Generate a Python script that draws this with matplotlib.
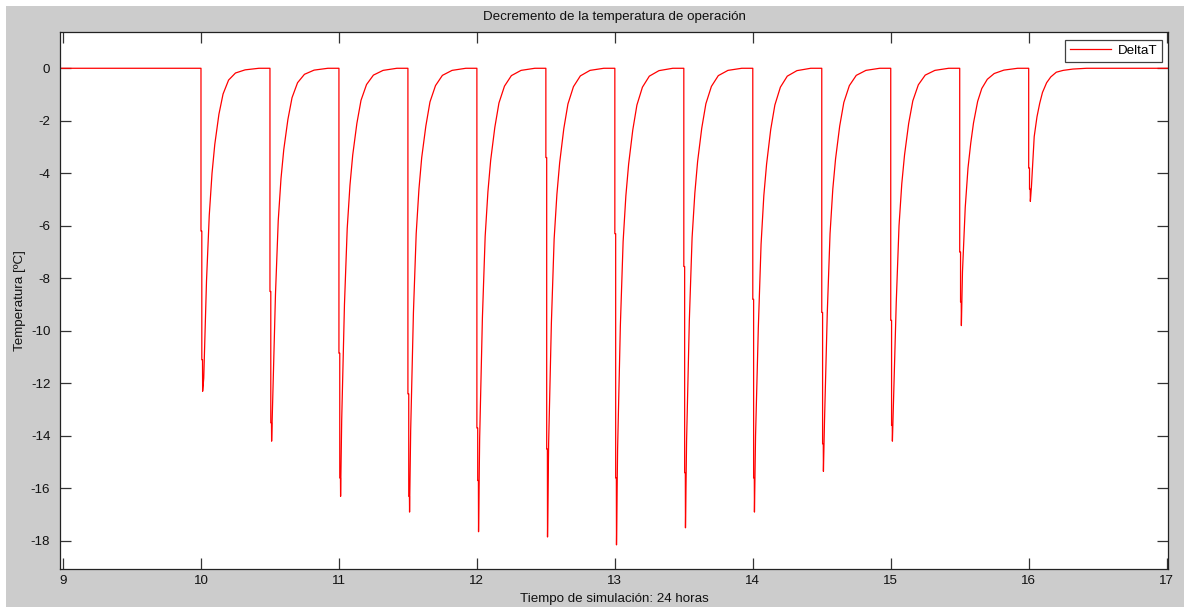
import numpy as np
import matplotlib
matplotlib.use("Agg")
import matplotlib.pyplot as plt
from matplotlib.patches import Rectangle

plt.rcParams['font.family'] = ['Liberation Sans', 'DejaVu Sans']

# ---------------- data ----------------
TITLE = "Decremento de la temperatura de operación"
XLABEL = "Tiempo de simulación: 24 horas"
YLABEL = "Temperatura [ºC]"
SERIES_NAME = "DeltaT"

x_ticks = [9, 10, 11, 12, 13, 14, 15, 16, 17]
y_ticks = [-18, -16, -14, -12, -10, -8, -6, -4, -2, 0]

t_start = 8.978
t_end = 17.012

# spike instants (hours)
spike_t = [10.0, 10.5, 11.0, 11.5, 12.0, 12.5, 13.0, 13.5, 14.0, 14.5, 15.0, 15.5, 16.0]
# first intermediate level of the drop
step1_v = [-6.2, -8.5, -10.85, -12.4, -13.7, -3.4, -6.3, -7.55, -8.8, -9.3, -9.6, -7.0, -3.8]
# second intermediate level of the drop
step2_v = [-11.1, -13.5, -15.6, -16.3, -15.7, -14.5, -15.6, -15.4, -15.6, -14.3, -13.6, -8.9, -4.6]
# minimum of each dip
min_v = [-12.3, -14.2, -16.3, -16.9, -17.65, -17.85, -18.15, -17.5, -16.9, -15.35, -14.2, -9.8, -5.07]

# dip offsets (hours after spike)
dip_dt = [0.0, 0.0, 0.006, 0.006, 0.011, 0.012]

# recovery: offsets (hours after spike) and values for each spike
tail_dt = [0.02, 0.04, 0.06, 0.08, 0.10, 0.13, 0.16, 0.20, 0.25, 0.32, 0.42]
tail_v = [
    [-11.8, -8.1, -5.6, -4.0, -2.9, -1.75, -0.98, -0.45, -0.18, -0.06, 0.0],
    [-12.6, -8.6, -5.8, -4.2, -3.1, -1.95, -1.12, -0.55, -0.23, -0.07, 0.0],
    [-13.4, -9.0, -6.1, -4.45, -3.3, -2.1, -1.22, -0.62, -0.26, -0.08, 0.0],
    [-13.8, -9.3, -6.3, -4.6, -3.4, -2.2, -1.28, -0.66, -0.27, -0.08, 0.0],
    [-14.1, -9.5, -6.4, -4.7, -3.5, -2.25, -1.32, -0.68, -0.28, -0.08, 0.0],
    [-14.3, -9.7, -6.5, -4.8, -3.6, -2.3, -1.36, -0.70, -0.29, -0.08, 0.0],
    [-14.5, -9.8, -6.6, -4.85, -3.65, -2.35, -1.40, -0.72, -0.30, -0.09, 0.0],
    [-14.2, -9.6, -6.45, -4.75, -3.55, -2.28, -1.35, -0.69, -0.28, -0.08, 0.0],
    [-14.0, -9.9, -6.7, -4.85, -3.65, -2.33, -1.40, -0.72, -0.30, -0.09, 0.0],
    [-13.4, -9.3, -6.3, -4.6, -3.45, -2.2, -1.30, -0.66, -0.27, -0.08, 0.0],
    [-12.7, -8.9, -6.0, -4.4, -3.3, -2.1, -1.24, -0.63, -0.26, -0.08, 0.0],
    [-7.75, -5.3, -3.8, -2.85, -2.08, -1.26, -0.77, -0.42, -0.20, -0.07, 0.0],
    [-4.5, -2.6, -1.85, -1.33, -0.92, -0.55, -0.33, -0.15, -0.08, -0.03, 0.0],
]

# ---------------- build the polyline from the read values ----------------
tt = [t_start]
vv = [0.0]
for i, t0 in enumerate(spike_t):
    dip_vals = [0.0, step1_v[i], step1_v[i], step2_v[i], step2_v[i], min_v[i]]
    for d, v in zip(dip_dt, dip_vals):
        tt.append(t0 + d)
        vv.append(v)
    for d, v in zip(tail_dt, tail_v[i]):
        tt.append(t0 + d)
        vv.append(v)
tt.append(t_end)
vv.append(0.0)

# ---------------- figure ----------------
W, H = 1184, 607
fig = plt.figure(figsize=(W / 100, H / 100), dpi=100, facecolor='#cccccc')
fig.patches.append(Rectangle((0, 1 - 6 / H), 1, 6 / H, transform=fig.transFigure,
                             facecolor='white', edgecolor='none', zorder=-1))
fig.patches.append(Rectangle((0, 0), 6 / W, 1, transform=fig.transFigure,
                             facecolor='white', edgecolor='none', zorder=-1))

ax_l, ax_r, ax_t, ax_b = 60, 1168.3, 32.3, 569.3
ax = fig.add_axes([ax_l / W, 1 - ax_b / H, (ax_r - ax_l) / W, (ax_b - ax_t) / H])
ax.set_facecolor('white')

ax.plot(tt, vv, color='#ff0000', lw=0.9, label=SERIES_NAME)

ax.set_xlim(t_start, t_end)
ax.set_ylim(-19.08, 1.37)
ax.set_xticks(x_ticks)
ax.set_yticks(y_ticks)
ax.set_xticklabels([str(v) for v in x_ticks])
ax.set_yticklabels([str(v) for v in y_ticks])

fs = 9.6
ax.tick_params(axis='both', direction='in', length=7.9, width=0.9, color='#333333',
               top=True, right=True, labelsize=fs, labelcolor='#111111')
ax.tick_params(axis='x', pad=4)
ax.tick_params(axis='y', pad=7)
for s in ax.spines.values():
    s.set_color('#222222')
    s.set_linewidth(0.9)

ax.set_title(TITLE, fontsize=fs, color='#111111', pad=0,
             y=1 + (ax_t - 17) / (ax_b - ax_t), va='center')
ax.set_xlabel(XLABEL, fontsize=fs, color='#111111')
ax.xaxis.set_label_coords(0.5, -(599 - ax_b) / (ax_b - ax_t))
ax.xaxis.label.set_va('center')
ax.set_ylabel(YLABEL, fontsize=fs, color='#111111')
ax.yaxis.set_label_coords(-(ax_l - 20) / (ax_r - ax_l), 0.5)
ax.yaxis.label.set_va('center')
ax.yaxis.label.set_ha('center')

leg = ax.legend(loc='upper right',
                bbox_to_anchor=((1162.3 - ax_l) / (ax_r - ax_l), (ax_b - 40) / (ax_b - ax_t)),
                borderaxespad=0, fancybox=False, framealpha=1, edgecolor='#404040',
                handlelength=3.1, handletextpad=0.5, borderpad=0.35, fontsize=fs)
leg.get_frame().set_linewidth(0.9)

fig.savefig('out.png', dpi=100, facecolor=fig.get_facecolor())
